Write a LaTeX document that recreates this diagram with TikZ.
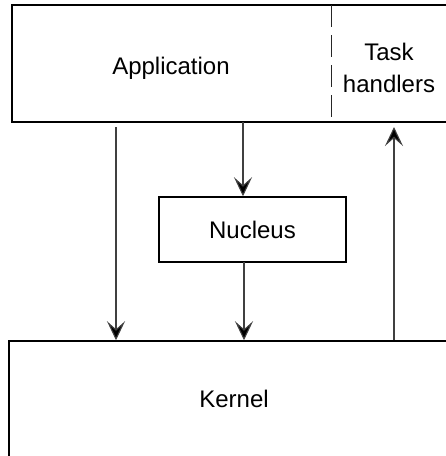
\documentclass[tikz,border=0pt]{standalone}
\usepackage{fontspec}
\setmainfont{Liberation Sans}
\usetikzlibrary{arrows.meta}
\begin{document}
\begin{tikzpicture}[x=1pt,y=-1pt,
  box/.style={draw=black,line width=1.5pt,fill=none,inner sep=0pt},
  lbl/.style={font=\fontsize{24}{28}\selectfont,align=center,inner sep=0pt},
  conn/.style={draw=black!75,line width=1.1pt,-{Stealth[length=19pt,width=18pt,inset=8pt,fill=black]}}]
\useasboundingbox (0,0) rectangle (446,456);
\clip (0,0) rectangle (446,456);
\fill[white] (0,0) rectangle (446,456);
% boxes
\node[box,minimum width=440pt,minimum height=117pt] (app) at (232,63.5) {};
\node[box,minimum width=444pt,minimum height=130pt] (kernel) at (231,406) {};
\node[box,minimum width=187pt,minimum height=65pt] (nucleus) at (252.5,229.5) {};
% dashed divider
\coordinate (d1) at (331,5);
\draw[black!85,line width=0.9pt,dash pattern=on 22pt off 8pt] (d1) -- (d1 |- app.south);
% labels
\node[lbl] (applbl) at (171,68) {Application};
\node[lbl] (tasklbl) at (389,68) {Task\\[4pt]handlers};
\node[lbl] (nuclbl) at (252.5,230) {Nucleus};
\node[lbl] (kerlbl) at (234,399) {Kernel};
% connectors
\coordinate (a1) at (116,127);
\draw[conn] (a1) -- (a1 |- kernel.north);
\coordinate (a2) at (243,122);
\draw[conn] (a2) -- (a2 |- nucleus.north);
\coordinate (a3) at (244,262);
\draw[conn] (a3) -- (a3 |- kernel.north);
\coordinate (a4) at (394,340);
\coordinate (a4t) at (394,127);
\draw[conn] (a4) -- (a4t);
\end{tikzpicture}
\end{document}
